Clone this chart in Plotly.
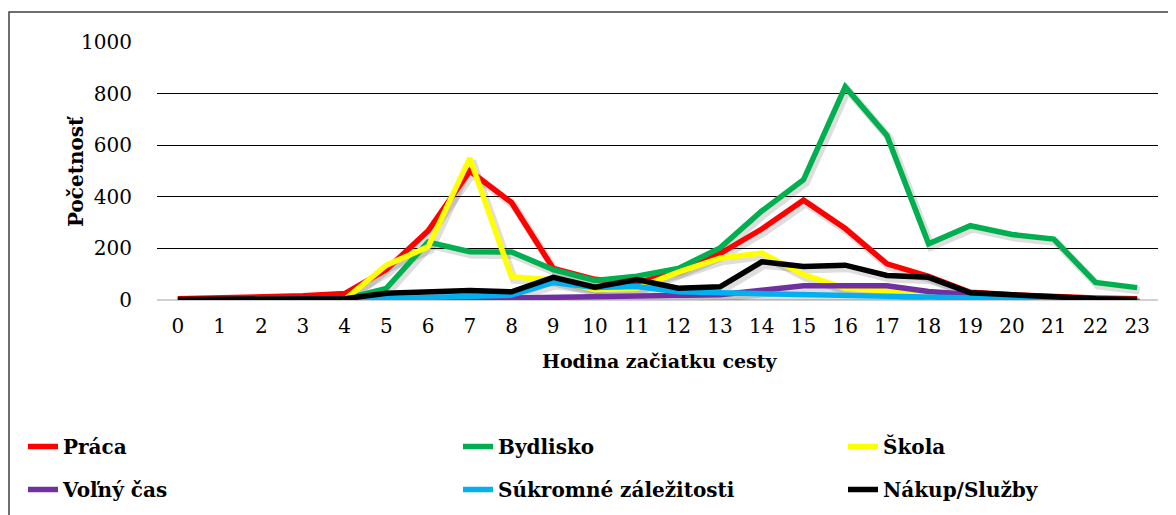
import plotly.graph_objects as go

hours = [str(h) for h in range(24)]

series_names = ["Práca", "Bydlisko", "Škola", "Voľný čas", "Súkromné záležitosti", "Nákup/Služby"]
series_colors = ["#FF0000", "#00B050", "#FFFF00", "#7030A0", "#00B0F0", "#000000"]

praca = [5, 8, 12, 16, 25, 118, 268, 500, 378, 122, 80, 65, 112, 180, 275, 387, 277, 140, 92, 30, 20, 12, 8, 5]
bydlisko = [1, 1, 2, 2, 4, 45, 225, 187, 186, 118, 76, 92, 122, 202, 345, 466, 826, 638, 218, 288, 254, 236, 68, 48]
skola = [0, 0, 0, 0, 1, 135, 206, 550, 90, 78, 40, 45, 108, 162, 182, 98, 45, 35, 12, 5, 3, 2, 1, 1]
volny_cas = [0, 0, 1, 1, 1, 2, 3, 5, 8, 10, 12, 13, 15, 20, 38, 55, 55, 55, 33, 20, 10, 5, 2, 1]
sukromne = [0, 0, 0, 0, 1, 5, 10, 14, 19, 68, 48, 52, 32, 28, 24, 24, 20, 15, 10, 8, 5, 3, 2, 1]
nakup = [2, 3, 3, 4, 5, 26, 30, 37, 32, 88, 50, 79, 46, 51, 148, 130, 135, 95, 88, 28, 20, 12, 5, 2]

all_series = [praca, bydlisko, skola, volny_cas, sukromne, nakup]

y_ticks = [0, 200, 400, 600, 800, 1000]

# The page body has an 8px margin, so figure pixel = screen pixel - 8
OFF = 8
W, H = 1176, 515

def fx(sx):
    return sx - OFF

PL, PR, PT, PB = fx(157), fx(1158), fx(42), fx(300)
ML, MR, MT, MB = PL, W - PR, PT, H - PB

def px(sx):
    return (fx(sx) - PL) / (PR - PL)

def py(sy):
    return (PB - fx(sy)) / (PB - PT)

FONT = "DejaVu Serif"
Y_MAX = 1000
N_CAT = len(hours)

# drop-shadow offset (pixels) emulated with a shifted, hidden base axis pair
SH_DX, SH_DY = 2.5, 3.0
cat_px = (PR - PL) / N_CAT
val_px = (PB - PT) / Y_MAX
dx_cat = SH_DX / cat_px
dy_val = SH_DY / val_px

legend_of = ["legend", "legend2", "legend3", "legend", "legend2", "legend3"]

fig = go.Figure()
# shadows on the base (hidden, shifted) axes -> drawn underneath
for vals in all_series:
    fig.add_trace(go.Scatter(
        x=hours, y=vals, mode="lines", showlegend=False, hoverinfo="skip",
        line=dict(color="rgba(0,0,0,0.13)", width=8),
        xaxis="x", yaxis="y",
    ))
# real series on the overlaying, visible axes -> drawn on top
for i, (name, color, vals) in enumerate(zip(series_names, series_colors, all_series)):
    fig.add_trace(go.Scatter(
        x=hours, y=vals, name=name, mode="lines",
        line=dict(color=color, width=5.5),
        legend=legend_of[i], legendgroup="g%d" % i,
        xaxis="x2", yaxis="y2",
    ))

def make_legend(sx_line_start):
    return dict(
        orientation="v", xref="container", yref="container",
        x=(fx(sx_line_start) - 7) / W, y=1 - (fx(447) - 20) / H,
        xanchor="left", yanchor="top",
        font=dict(family=FONT, size=20, color="black", weight="bold"),
        tracegroupgap=14, itemwidth=30,
        bgcolor="rgba(0,0,0,0)", traceorder="grouped",
    )

fig.update_layout(
    width=W, height=H,
    margin=dict(l=ML, r=MR, t=MT, b=MB, autoexpand=False),
    paper_bgcolor="white", plot_bgcolor="white",
    font=dict(family=FONT, color="black", size=20),
    showlegend=True,
    legend=make_legend(30),
    legend2=make_legend(465),
    legend3=make_legend(850),
    xaxis=dict(
        type="category", range=[-0.5 - dx_cat, N_CAT - 0.5 - dx_cat],
        visible=False, showgrid=False, zeroline=False,
    ),
    yaxis=dict(
        range=[dy_val, Y_MAX + dy_val],
        visible=False, showgrid=False, zeroline=False,
    ),
    xaxis2=dict(
        type="category", overlaying="x", side="bottom",
        range=[-0.5, N_CAT - 0.5], showgrid=False, zeroline=False,
        showline=False, ticks="", tickfont=dict(family=FONT, size=20),
        ticklabelstandoff=12,
    ),
    yaxis2=dict(
        overlaying="y", side="left",
        range=[0, Y_MAX], tickvals=y_ticks, showgrid=True, gridcolor="#000000",
        gridwidth=1.3, zeroline=True, zerolinecolor="#D0D0D0", zerolinewidth=2,
        showline=False, ticks="", tickfont=dict(family=FONT, size=20),
        ticklabelstandoff=24,
    ),
    annotations=[
        dict(text="<b>Hodina začiatku cesty</b>", xref="paper", yref="paper",
             x=px(660), y=py(374), showarrow=False,
             font=dict(family=FONT, size=19)),
        dict(text="<b>Početnosť</b>", xref="paper", yref="paper",
             x=px(62), y=py(172), showarrow=False, textangle=-90,
             font=dict(family=FONT, size=20)),
    ],
    shapes=[
        dict(type="rect", xref="paper", yref="paper",
             x0=px(9), y0=py(12), x1=px(1200), y1=py(540),
             line=dict(color="#404040", width=1.5), fillcolor="rgba(0,0,0,0)",
             layer="below"),
    ],
)

fig.write_html("out.html")
